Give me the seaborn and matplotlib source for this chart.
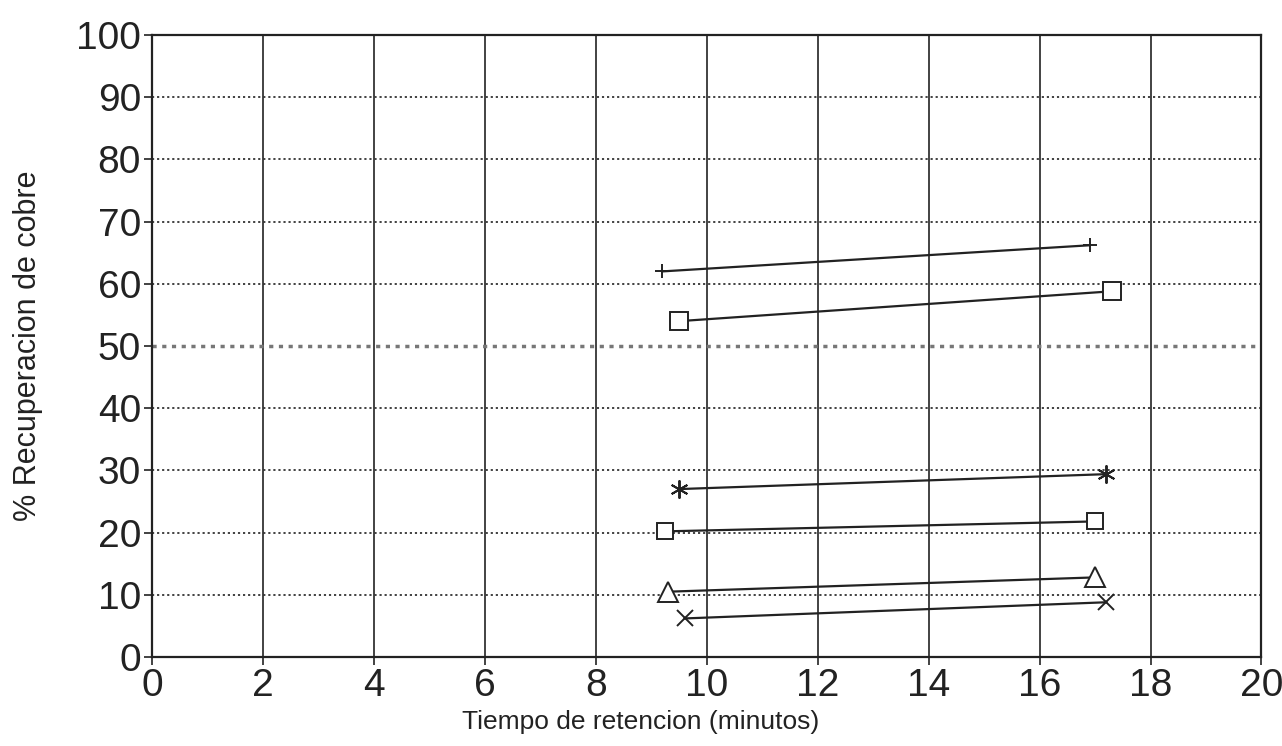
import matplotlib
matplotlib.use("Agg")
import matplotlib.pyplot as plt
import seaborn as sns
import pandas as pd

# Data
serie_a_x = [9.2, 16.9]
serie_a_y = [62.0, 66.2]
serie_b_x = [9.5, 17.3]
serie_b_y = [54.0, 58.8]
serie_c_x = [9.5, 17.2]
serie_c_y = [27.0, 29.4]
serie_d_x = [9.25, 17.0]
serie_d_y = [20.2, 21.8]
serie_e_x = [9.3, 17.0]
serie_e_y = [10.5, 12.8]
serie_f_x = [9.6, 17.2]
serie_f_y = [6.2, 8.8]

series_names = ["A", "B", "C", "D", "E", "F"]
xs = [serie_a_x, serie_b_x, serie_c_x, serie_d_x, serie_e_x, serie_f_x]
ys = [serie_a_y, serie_b_y, serie_c_y, serie_d_y, serie_e_y, serie_f_y]

x_ticks = list(range(0, 21, 2))
y_ticks = list(range(0, 101, 10))

rows = []
for n, xx, yy in zip(series_names, xs, ys):
    for a, b in zip(xx, yy):
        rows.append({"serie": n, "t": a, "rec": b})
df = pd.DataFrame(rows)

sns.set_theme(style="white")
plt.rcParams["font.family"] = ["Liberation Sans", "DejaVu Sans"]

fig = plt.figure(figsize=(12.82, 7.46), dpi=100)
ax = fig.add_axes([0.1186, 0.1193, 0.984 - 0.1186, 0.953 - 0.1193])

markers = {"A": "+", "B": "s", "C": (6, 2, 0), "D": "s", "E": "^", "F": "x"}
sizes = {"A": 10, "B": 13, "C": 13, "D": 11, "E": 15, "F": 12}

# grid
for xv in x_ticks:
    ax.axvline(xv, color="#222222", lw=1.2, zorder=1)
for yv in y_ticks:
    if yv in (0, 100):
        continue
    ax.axhline(yv, color="#333333" if yv != 50 else "#777777", lw=1.3 if yv != 50 else 2.5,
               ls=(0, (1.2, 1.6)), zorder=1)

for n in series_names:
    sub = df[df["serie"] == n]
    sns.lineplot(data=sub, x="t", y="rec", ax=ax, color="#222222", lw=1.6,
                 marker=markers[n], markersize=sizes[n], markerfacecolor="white",
                 markeredgecolor="#222222", markeredgewidth=1.4, zorder=3,
                 estimator=None, sort=False)

ax.set_xlim(0, 20)
ax.set_ylim(0, 100)
ax.set_xticks(x_ticks)
ax.set_yticks(y_ticks)
ax.tick_params(axis="both", length=6, width=1.2, colors="#222222",
               direction="out", bottom=True, left=True, pad=2)
for lab in ax.get_xticklabels() + ax.get_yticklabels():
    lab.set_fontsize(28)
for s in ax.spines.values():
    s.set_color("#222222")
    s.set_linewidth(1.6)
ax.set_xlabel("Tiempo de retencion (minutos)", fontsize=19, color="#222222")
ax.xaxis.set_label_coords(0.44, -0.085)
ax.set_ylabel("% Recuperacion de cobre", fontsize=22, color="#222222")
ax.yaxis.set_label_coords(-0.098, 0.5)

fig.savefig("out.png", dpi=100)
